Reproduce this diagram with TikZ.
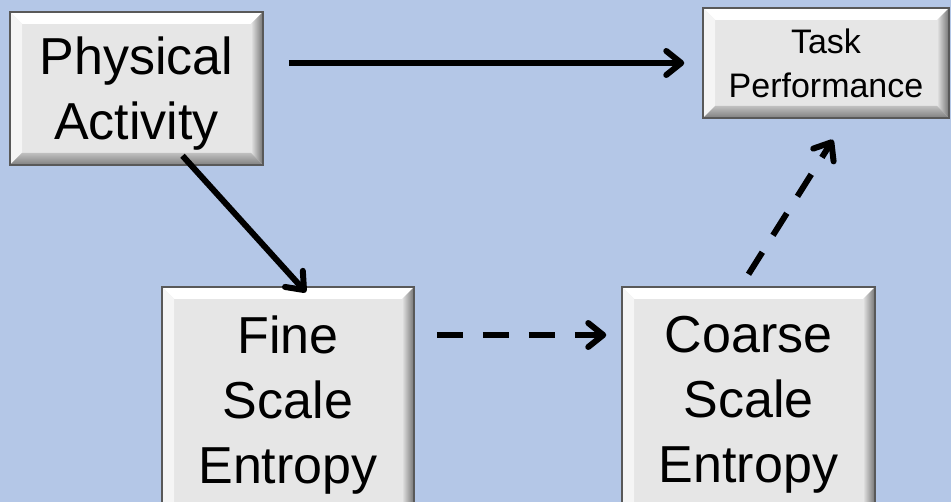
\documentclass[tikz,border=0pt]{standalone}
\usepackage{fontspec}
\setmainfont{Liberation Sans}
\usetikzlibrary{arrows.meta}
\definecolor{bgblue}{RGB}{180,199,231}
\definecolor{boxgray}{RGB}{230,230,230}

\begin{document}
\begin{tikzpicture}[
  x=1pt, y=-1pt,
  box/.style={draw=black!65, line width=1.5pt, fill=boxgray, align=center, inner sep=0pt, bevel=12pt},
  bevel/.style={path picture={
    \coordinate (pnw) at (path picture bounding box.north west);
    \coordinate (pne) at (path picture bounding box.north east);
    \coordinate (pse) at (path picture bounding box.south east);
    \coordinate (psw) at (path picture bounding box.south west);
    \fill[white] (pnw) -- (pne) -- ([shift={(-#1,-#1)}]pne) -- ([shift={(#1,-#1)}]pnw) -- cycle;
    \fill[black!4] (pnw) -- ([shift={(#1,-#1)}]pnw) -- ([shift={(#1,#1)}]psw) -- (psw) -- cycle;
    \shade[left color=black!10, right color=black!55] (pne) -- (pse) -- ([shift={(-#1,#1)}]pse) -- ([shift={(-#1,-#1)}]pne) -- cycle;
    \shade[top color=black!25, bottom color=black!50] (psw) -- (pse) -- ([shift={(-#1,#1)}]pse) -- ([shift={(#1,#1)}]psw) -- cycle;
  }},
  big/.style={font=\fontsize{52}{65}\selectfont},
  arr/.style={line width=6pt, -{Straight Barb[length=15pt, width=24pt, round]}},
  dsh/.style={arr, dash pattern=on 26pt off 20pt}
]
\fill[bgblue] (0,0) rectangle (951,502);
\useasboundingbox (0,0) rectangle (951,502);

% boxes
\node[box, big, minimum width=253pt, minimum height=153pt] (pa) at (136.5,88.5) {\rule{0pt}{48pt}Physical\\Activity};
\node[box, font=\fontsize{34}{44}\selectfont, minimum width=246pt, minimum height=110pt] (tp) at (826,63) {Task\\Performance};
\node[box, big, minimum width=252pt, minimum height=236pt] (fse) at (288,405) {Fine\\Scale\\Entropy};
\node[box, big, minimum width=253pt, minimum height=236pt] (cse) at (748.5,405) {Coarse\\Scale\\Entropy};

% paths
\draw[arr, shorten <=25pt, shorten >=18pt] (pa.east |- tp.west) -- (tp.west);
\draw[arr] ([shift={(46pt,10pt)}]pa.south) -- ([shift={(18pt,-6pt)}]fse.north);
\draw[dsh] ([yshift=70pt]fse.east) ++(22pt,0pt) -- ([shift={(-15pt,70pt)}]cse.west);
\draw[dsh] ([yshift=12pt]cse.north) -- ([shift={(7pt,-21pt)}]tp.south);
\end{tikzpicture}
\end{document}
